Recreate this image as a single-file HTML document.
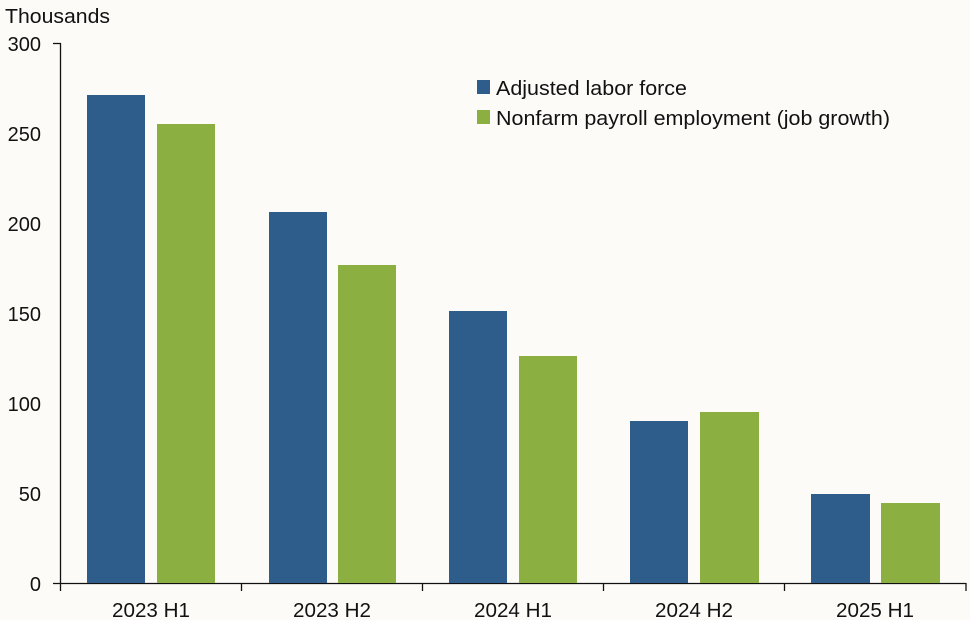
<!DOCTYPE html>
<html><head><meta charset="utf-8"><style>
html,body{margin:0;padding:0;background:#fcfbf8;}
svg{display:block;font-family:"Liberation Sans",sans-serif;}
</style></head><body>
<svg width="970" height="620" xmlns="http://www.w3.org/2000/svg">
<rect width="970" height="620" fill="#fcfbf8"/>
<g font-size="20" fill="#111">
<text x="5" y="23" textLength="105" lengthAdjust="spacingAndGlyphs">Thousands</text>
<g text-anchor="end">
<text x="41" y="51">300</text>
<text x="41" y="141">250</text>
<text x="41" y="231">200</text>
<text x="41" y="321">150</text>
<text x="41" y="411">100</text>
<text x="41" y="501">50</text>
<text x="41" y="591">0</text>
</g>
</g>
<g stroke="#111" stroke-width="1.3" fill="none">
<line x1="60.5" y1="43" x2="60.5" y2="583"/>
<line x1="53" y1="43.5" x2="60.5" y2="43.5"/>
<line x1="53" y1="583.5" x2="966" y2="583.5"/>
<line x1="60.5" y1="583" x2="60.5" y2="591"/>
<line x1="241.5" y1="583" x2="241.5" y2="591"/>
<line x1="422.5" y1="583" x2="422.5" y2="591"/>
<line x1="603.5" y1="583" x2="603.5" y2="591"/>
<line x1="784.5" y1="583" x2="784.5" y2="591"/>
<line x1="966" y1="583" x2="966" y2="591"/>
</g>
<g fill="#2e5d8b">
<rect x="87" y="95" width="58" height="488"/>
<rect x="269" y="212" width="58" height="371"/>
<rect x="449" y="311" width="58" height="272"/>
<rect x="630" y="421" width="58" height="162"/>
<rect x="811" y="494" width="59" height="89"/>
</g>
<g fill="#8caf41">
<rect x="157" y="124" width="58" height="459"/>
<rect x="338" y="265" width="58" height="318"/>
<rect x="519" y="356" width="58" height="227"/>
<rect x="700" y="412" width="59" height="171"/>
<rect x="881" y="503" width="59" height="80"/>
</g>
<g font-size="20" fill="#111" text-anchor="middle">
<text x="151" y="617" textLength="78" lengthAdjust="spacingAndGlyphs">2023 H1</text>
<text x="332" y="617" textLength="78" lengthAdjust="spacingAndGlyphs">2023 H2</text>
<text x="513" y="617" textLength="78" lengthAdjust="spacingAndGlyphs">2024 H1</text>
<text x="694" y="617" textLength="78" lengthAdjust="spacingAndGlyphs">2024 H2</text>
<text x="875" y="617" textLength="78" lengthAdjust="spacingAndGlyphs">2025 H1</text>
</g>
<rect x="477" y="80" width="13" height="14" fill="#2e5d8b"/>
<rect x="477" y="110" width="13" height="14" fill="#8caf41"/>
<g font-size="20" fill="#111">
<text x="496" y="95" textLength="191" lengthAdjust="spacingAndGlyphs">Adjusted labor force</text>
<text x="496" y="125" textLength="394" lengthAdjust="spacingAndGlyphs">Nonfarm payroll employment (job growth)</text>
</g>
</svg>
</body></html>
